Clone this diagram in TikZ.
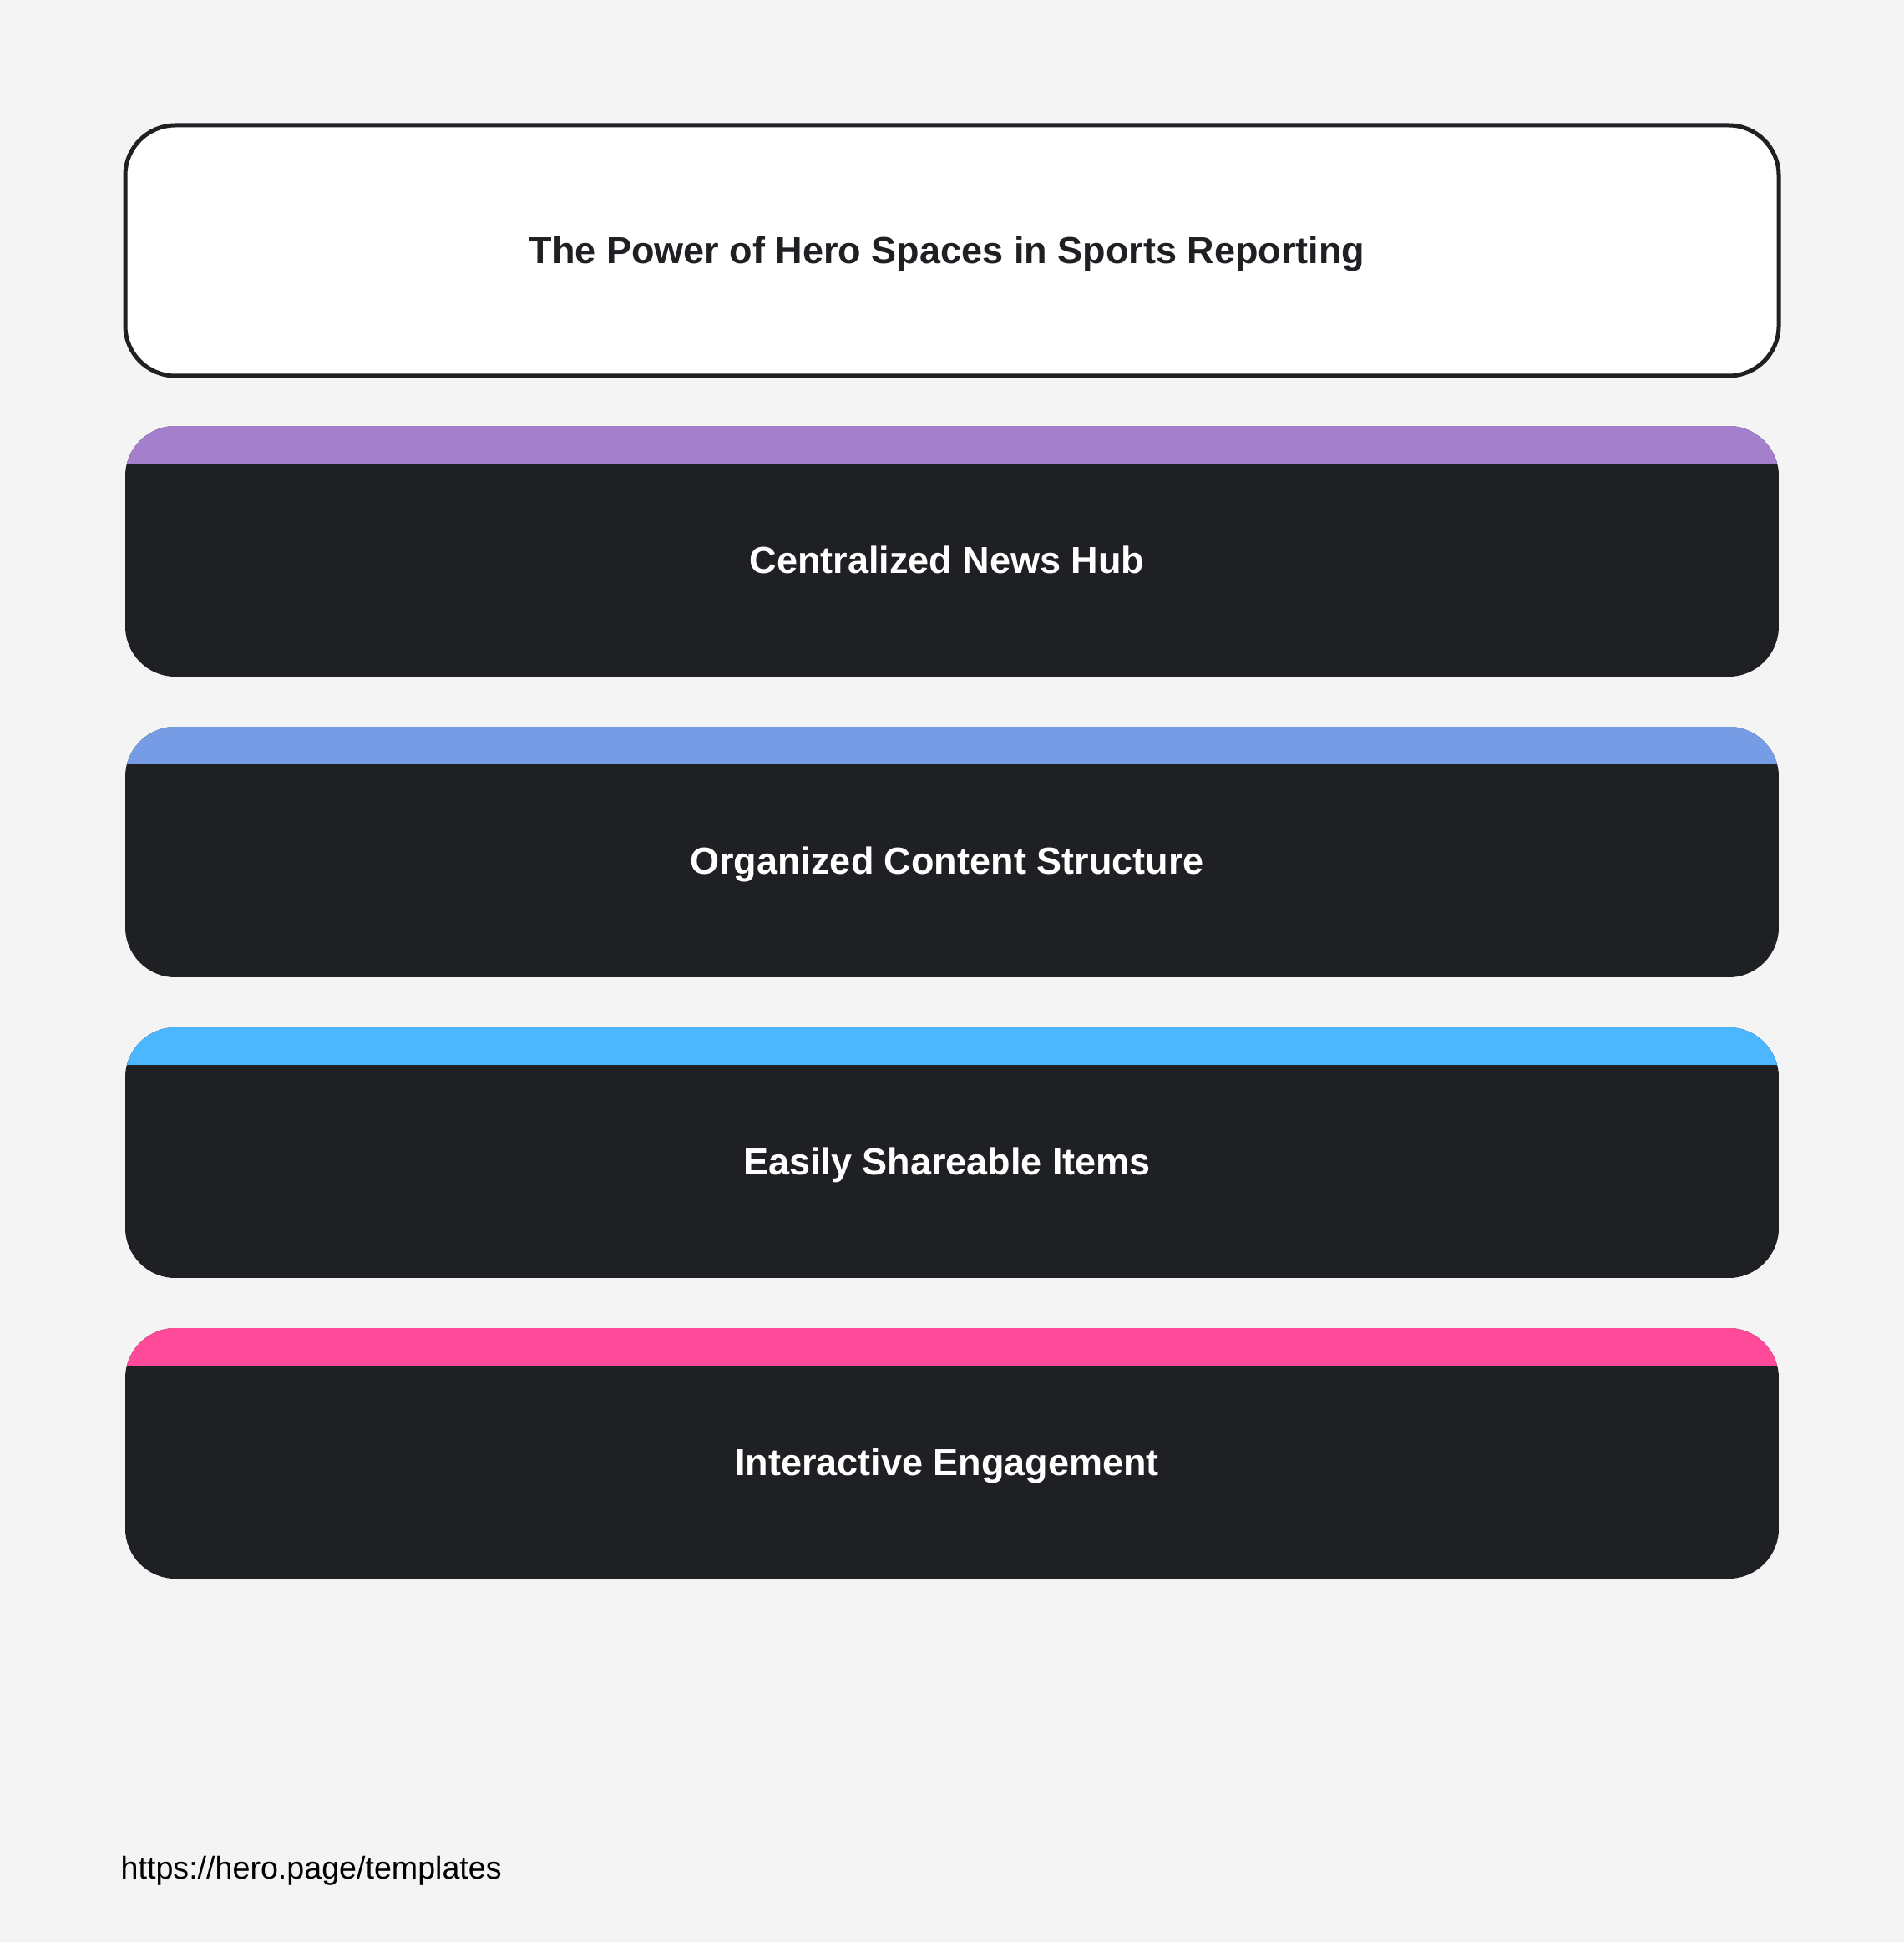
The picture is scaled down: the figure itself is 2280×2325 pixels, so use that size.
\documentclass[tikz,border=0pt]{standalone}
\usepackage{fontspec}
\setmainfont{Liberation Sans}
\definecolor{pagebg}{HTML}{F4F4F4}
\definecolor{ink}{HTML}{1F2023}
\definecolor{bandA}{HTML}{A480CC}
\definecolor{bandB}{HTML}{779CE6}
\definecolor{bandC}{HTML}{4CB6FF}
\definecolor{bandD}{HTML}{FF4A9A}
\tikzset{
	heading/.style={font=\bfseries\fontsize{12.8}{15}\selectfont, text=ink, inner sep=0, anchor=base},
	itemtext/.style={font=\bfseries\fontsize{12.8}{15}\selectfont, text=white, inner sep=0, anchor=base},
}
\begin{document}
\begin{tikzpicture}[x=0.01cm, y=-0.01cm]
	\fill[pagebg] (0,0) rectangle (2280,2325);
	\useasboundingbox (0,0) rectangle (2280,2325);
	% title box
	\draw[ink, line width=0.05cm, fill=white, rounded corners=0.6cm] (150,150) rectangle (2130,450);
	\node[heading] (title) at (1134,316) {The Power of Hero Spaces in Sports Reporting};
	% item boxes
	\foreach \i/\c/\t in {0/bandA/Centralized News Hub, 1/bandB/Organized Content Structure, 2/bandC/Easily Shareable Items, 3/bandD/Interactive Engagement}
		{
			\pgfmathsetmacro{\y}{510 + 360*\i}
			\begin{scope}
				\clip[rounded corners=0.6cm] (150,\y) rectangle (2130,\y+300);
				\fill[ink] (150,\y) rectangle (2130,\y+300);
				\fill[\c] (150,\y) rectangle (2130,\y+45);
			\end{scope}
			\node[itemtext] (item\i) at (1134,\y+176) {\t};
		}
	\node[font=\fontsize{10.7}{13}\selectfont, inner sep=0, anchor=base west] (url) at (144,2249) {https://hero.page/templates};
\end{tikzpicture}
\end{document}
